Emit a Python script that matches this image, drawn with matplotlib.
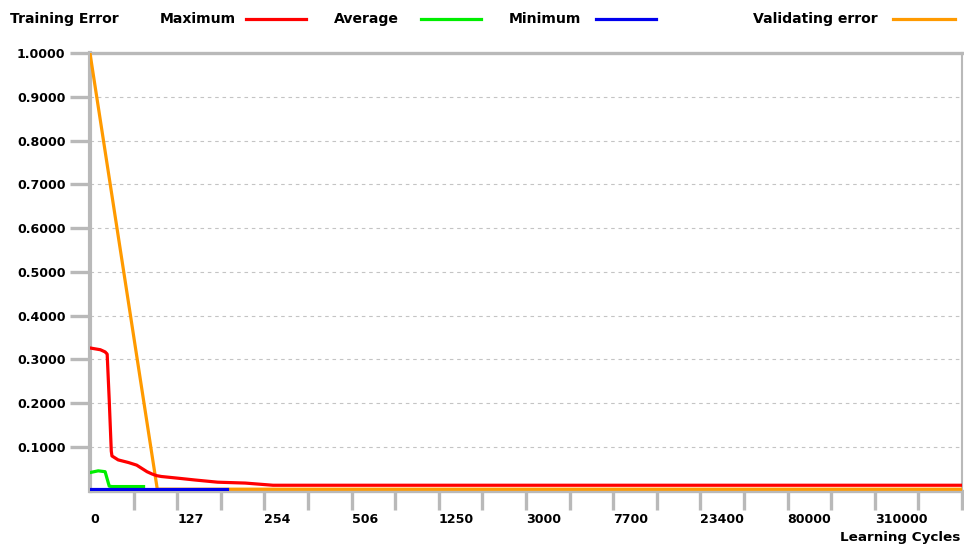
import numpy as np
import matplotlib
matplotlib.use("Agg")
import matplotlib.pyplot as plt
from matplotlib.lines import Line2D
from matplotlib.ticker import FixedLocator, FixedFormatter

# ---- axis definition (non-linear "Learning Cycles" axis) ----
tick_values = [0, 127, 254, 506, 1250, 3000, 7700, 23400, 80000, 310000, 1200000]
tick_labels = ["0", "127", "254", "506", "1250", "3000", "7700", "23400", "80000", "310000"]
y_ticks = [0.1, 0.2, 0.3, 0.4, 0.5, 0.6, 0.7, 0.8, 0.9, 1.0]

# ---- series (learning cycles, error) ----
max_cycles = [0, 15, 22, 25, 28, 31, 32, 41, 56, 68, 75, 83, 90, 97, 104, 129, 153, 186, 226, 279, 1200000]
max_err = [0.326, 0.322, 0.317, 0.312, 0.207, 0.090, 0.079, 0.070, 0.064, 0.058, 0.051, 0.043,
           0.038, 0.034, 0.032, 0.028, 0.024, 0.019, 0.017, 0.012, 0.012]

avg_cycles = [0, 12, 22, 24, 28, 32, 78]
avg_err = [0.041, 0.045, 0.043, 0.032, 0.010, 0.009, 0.009]

min_cycles = [0, 200]
min_err = [0.003, 0.003]

val_cycles = [0, 98, 1200000]
val_err = [1.0, 0.003, 0.003]

GRAY = "#b9b9b9"
RED = "#ff0000"
GREEN = "#00ee00"
BLUE = "#0000ee"
ORANGE = "#ff9a00"

plt.rcParams["font.family"] = ["DejaVu Sans"]
plt.rcParams["font.weight"] = "bold"

units = np.arange(len(tick_values), dtype=float)
tv = np.array(tick_values, dtype=float)


def fwd(x):
    return np.interp(x, tv, units)


def inv(u):
    return np.interp(u, units, tv)


W, H = 964, 547
fig = plt.figure(figsize=(W / 100, H / 100), dpi=100)
ax = fig.add_axes([90 / W, (H - 490.5) / H, (962 - 90) / W, (490.5 - 53.3) / H])
ax.set_xscale("function", functions=(fwd, inv))
ax.set_xlim(0, tick_values[-1])
ax.set_ylim(0, 1.0)

# grid lines
for g in y_ticks[:-1]:
    ax.axhline(g, color="#c4c4c4", lw=0.8, linestyle=(0, (3.2, 3.4)), zorder=1)

ax.plot(val_cycles, val_err, color=ORANGE, lw=2.3, zorder=3, solid_joinstyle="miter")
ax.plot(avg_cycles, avg_err, color=GREEN, lw=2.3, zorder=4)
ax.plot(min_cycles, min_err, color=BLUE, lw=2.3, zorder=5)
ax.plot(max_cycles, max_err, color=RED, lw=2.3, zorder=6)

# spines
for s in ax.spines.values():
    s.set_color(GRAY)
ax.spines["left"].set_linewidth(3.0)
ax.spines["bottom"].set_linewidth(2.4)
ax.spines["top"].set_linewidth(2.4)
ax.spines["right"].set_linewidth(1.5)

# y ticks
ax.set_yticks(y_ticks)
ax.set_yticklabels([f"{v:.4f}" for v in y_ticks])
ax.tick_params(axis="y", which="major", length=14.4, width=2.4, color=GRAY, pad=3.2,
               labelsize=9.1, labelcolor="black", direction="out")

# x ticks: labels at main positions (no mark), marks at every half unit
ax.xaxis.remove_overlapping_locs = False
ax.xaxis.set_major_locator(FixedLocator(tick_values[:-1]))
ax.xaxis.set_major_formatter(FixedFormatter(tick_labels))
minor_pos = inv(np.arange(0.5, 10.01, 0.5))
ax.xaxis.set_minor_locator(FixedLocator(list(minor_pos)))
ax.xaxis.set_minor_formatter(FixedFormatter([""] * len(minor_pos)))
ax.tick_params(axis="x", which="major", length=0, pad=16.5, labelsize=9.1, labelcolor="black")
ax.tick_params(axis="x", which="minor", length=13.5, width=2.4, color=GRAY, direction="out")
for lab in ax.get_xticklabels():
    lab.set_horizontalalignment("left")

for lab in ax.get_xticklabels() + ax.get_yticklabels():
    lab.set_fontweight("bold")

# x-axis title
fig.text(960 / W, 1 - 537 / H, "Learning Cycles", ha="right", va="center",
         fontsize=9.7, fontweight="bold")

# legend header (manual layout)
ly = 1 - 19 / H
fig.text(10 / W, ly, "Training Error", ha="left", va="center", fontsize=10.1, fontweight="bold")
entries = [("Maximum", 160, 246, 306, RED),
           ("Average", 334, 421, 481, GREEN),
           ("Minimum", 509, 596, 656, BLUE),
           ("Validating error", 753, 893, 955, ORANGE)]
for name, tx, l0, l1, col in entries:
    fig.text(tx / W, ly, name, ha="left", va="center", fontsize=10.1, fontweight="bold")
    fig.add_artist(Line2D([l0 / W, l1 / W], [ly, ly], color=col, lw=2.3,
                          transform=fig.transFigure))

fig.savefig("out.png", dpi=100)
